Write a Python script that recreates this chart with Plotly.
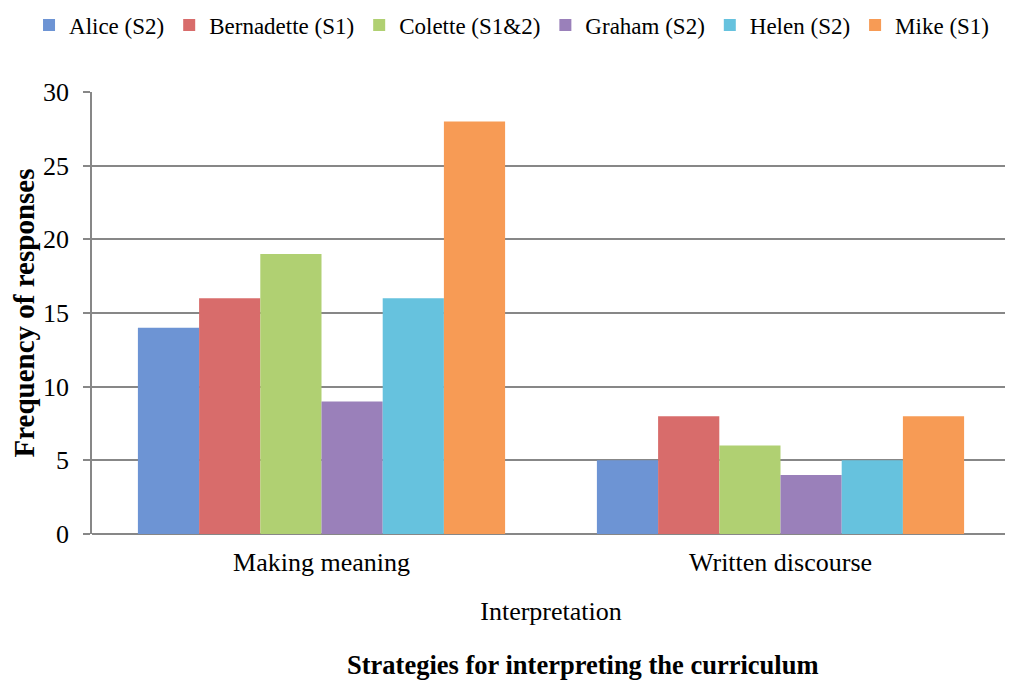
import plotly.graph_objects as go

categories = ["Making meaning", "Written discourse"]
series_names = ["Alice (S2)", "Bernadette (S1)", "Colette (S1&2)", "Graham (S2)", "Helen (S2)", "Mike (S1)"]
alice = [14, 5]
bernadette = [16, 8]
colette = [19, 6]
graham = [9, 4]
helen = [16, 5]
mike = [28, 8]
series_values = [alice, bernadette, colette, graham, helen, mike]
colors = ["#6d94d4", "#d86c6b", "#b0d072", "#9a80ba", "#66c2de", "#f79b55"]
y_ticks = [0, 5, 10, 15, 20, 25, 30]

FONT = "Liberation Serif, Times New Roman, serif"

fig = go.Figure()
for name, vals, col in zip(series_names, series_values, colors):
    fig.add_trace(go.Bar(name=name, x=categories, y=vals,
                         marker=dict(color=col, line=dict(width=0))))

fig.update_layout(
    width=1013, height=682,
    paper_bgcolor="white", plot_bgcolor="white",
    font=dict(family=FONT, size=26, color="black"),
    barmode="group", bargap=0.2, bargroupgap=0,
    margin=dict(l=84, r=11, t=84, b=156, autoexpand=False),
    legend=dict(orientation="h", x=-0.0686, xanchor="left", xref="paper",
                y=1.1516, yanchor="middle", yref="paper",
                font=dict(size=23), itemwidth=30,
                tracegroupgap=0, traceorder="normal"),
    xaxis=dict(showgrid=False, showline=False, ticks="", tickfont=dict(size=26),
               automargin=False, ticklabelstandoff=10,
               title=dict(text="Interpretation", font=dict(size=26), standoff=25)),
    yaxis=dict(range=[0, 30], tickvals=y_ticks, showgrid=True, gridcolor="#878787",
               gridwidth=1.5, showline=True, linecolor="#878787", linewidth=1.5,
               ticks="outside", ticklen=7, tickcolor="#878787", tickwidth=1.5,
               automargin=False, ticklabelstandoff=9,
               tickfont=dict(size=26), zeroline=True, zerolinecolor="#878787", zerolinewidth=1.5,
               title=dict(text="<b>Frequency of responses</b>", font=dict(size=29), standoff=1)),
    annotations=[dict(text="<b>Strategies for interpreting the curriculum</b>",
                      x=0.535, xref="paper", y=-0.2964, yref="paper",
                      xanchor="center", yanchor="middle", showarrow=False,
                      font=dict(size=26.5))],
)
fig.write_html("out.html")
